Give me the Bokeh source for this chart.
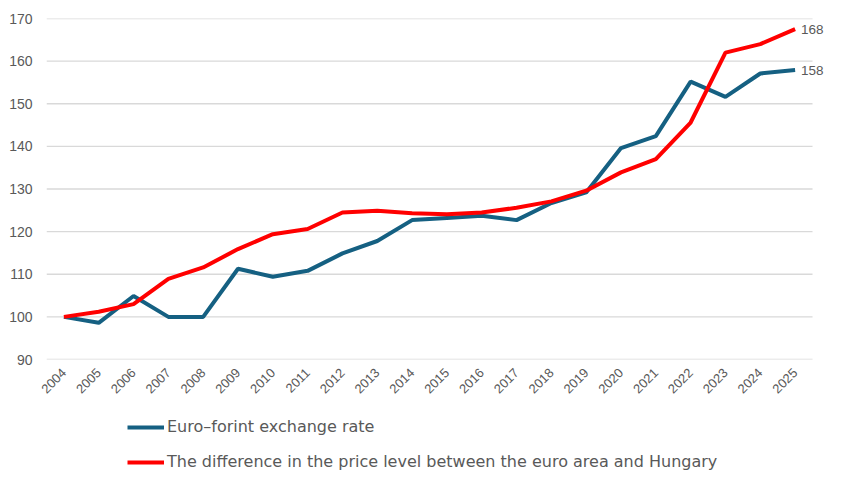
from bokeh.plotting import figure
from bokeh.models import Legend, LegendItem, Label, Range1d, FixedTicker
from bokeh.layouts import column
from bokeh.embed import file_html
from bokeh.resources import INLINE
import math

years = list(range(2004, 2026))
eur_huf = [100, 98.6, 104.9, 100, 100, 111.3, 109.4, 110.8, 114.9, 117.8, 122.7,
           123.2, 123.7, 122.7, 126.7, 129.2, 139.6, 142.4, 155.2, 151.6, 157.1, 157.9]
price_gap = [100, 101.2, 103.0, 108.9, 111.6, 115.9, 119.4, 120.6, 124.5, 124.9, 124.3,
             124.1, 124.5, 125.6, 127.1, 129.6, 133.9, 137.0, 145.6, 162.0, 164.0, 167.5]
y_ticks = [90, 100, 110, 120, 130, 140, 150, 160, 170]
series_names = ["Euro\u2013forint exchange rate",
                "The difference in the price level between the euro area and Hungary"]
end_labels = ["158", "168"]

BLUE = "#156082"
RED = "#ff0000"
GREY = "#595959"
FONT = "Liberation Sans"

x_start = years[0] - 0.5
x_grid_end = years[-1] + 0.5

p = figure(width=825, height=400, x_range=Range1d(x_start, x_grid_end + 0.373),
           y_range=Range1d(y_ticks[0], y_ticks[-1]), output_backend="svg",
           toolbar_location=None, min_border_left=46, min_border_right=0,
           min_border_top=18, min_border_bottom=41)
p.outline_line_color = None
p.xgrid.grid_line_color = None
p.ygrid.grid_line_color = None

p.segment(x0=[x_start] * len(y_ticks), x1=[x_grid_end] * len(y_ticks),
          y0=y_ticks, y1=y_ticks, line_color="#d9d9d9", line_width=1.3)

p.yaxis.ticker = FixedTicker(ticks=y_ticks)
p.xaxis.ticker = FixedTicker(ticks=years)

for ax in (p.xaxis, p.yaxis):
    ax.axis_line_color = None
    ax.major_tick_line_color = None
    ax.minor_tick_line_color = None
    ax.major_label_text_color = GREY
    ax.major_label_text_font = FONT
p.yaxis.major_label_text_font_size = "14px"
p.yaxis.major_label_standoff = 8
p.xaxis.major_label_text_font_size = "13px"
p.xaxis.major_label_orientation = math.pi / 4
p.xaxis.major_label_standoff = 5

r1 = p.line(years, eur_huf, line_color=BLUE, line_width=4)
r2 = p.line(years, price_gap, line_color=RED, line_width=4)

for vals, txt in ((eur_huf, end_labels[0]), (price_gap, end_labels[1])):
    p.add_layout(Label(x=years[-1], y=vals[-1], text=txt, x_offset=6,
                       text_baseline="middle", text_font=FONT, text_font_size="13.5px",
                       text_color=GREY))

# legend panel
lg = figure(width=825, height=71, x_axis_type=None, y_axis_type=None,
            output_backend="svg", toolbar_location=None,
            min_border=0, x_range=Range1d(0, 1), y_range=Range1d(0, 1))
lg.outline_line_color = None
lg.xgrid.grid_line_color = None
lg.ygrid.grid_line_color = None
l1 = lg.line(years[:1], eur_huf[:1], line_color=BLUE, line_width=4)
l2 = lg.line(years[:1], price_gap[:1], line_color=RED, line_width=4)
legend = Legend(items=[LegendItem(label=series_names[0], renderers=[l1]),
                       LegendItem(label=series_names[1], renderers=[l2])],
                location=(81, 0), orientation="vertical",
                glyph_width=37, glyph_height=18, spacing=16, label_standoff=3,
                label_text_font="DejaVu Sans", label_text_font_size="16px",
                label_text_color=GREY, background_fill_alpha=0,
                border_line_color=None, padding=0, margin=0)
lg.add_layout(legend, "center")

open("out.html", "w").write(file_html(column(p, lg, spacing=0), INLINE))
